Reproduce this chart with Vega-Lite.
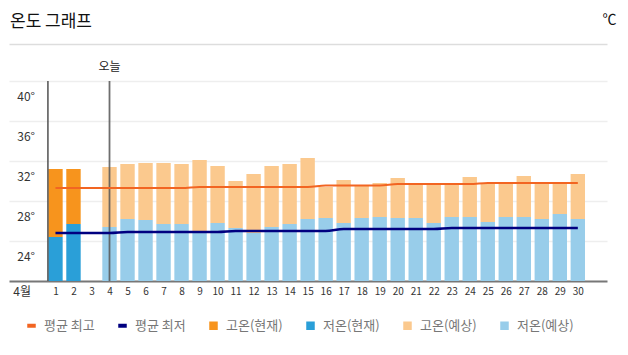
{
  "$schema": "https://vega.github.io/schema/vega-lite/v6.json",
  "width": 598,
  "height": 200,
  "autosize": {"type": "none"},
  "padding": {"left": 9, "top": 81, "right": 21, "bottom": 74},
  "background": "white",
  "title": {
    "text": "온도 그래프",
    "anchor": "start",
    "frame": "group",
    "orient": "top",
    "font": "Noto Sans CJK KR",
    "fontSize": 17,
    "fontWeight": "normal",
    "color": "#111111",
    "dx": 1,
    "dy": 29,
    "offset": 10
  },
  "config": {
    "view": {"stroke": null},
    "font": "Noto Sans CJK KR"
  },
  "datasets": {
    "bars": [
      {"day": 1, "high": 31.2, "low": 24.4, "highSeries": "고온(현재)", "lowSeries": "저온(현재)"},
      {"day": 2, "high": 31.2, "low": 25.7, "highSeries": "고온(현재)", "lowSeries": "저온(현재)"},
      {"day": 4, "high": 31.4, "low": 25.4, "highSeries": "고온(예상)", "lowSeries": "저온(예상)"},
      {"day": 5, "high": 31.7, "low": 26.2, "highSeries": "고온(예상)", "lowSeries": "저온(예상)"},
      {"day": 6, "high": 31.8, "low": 26.1, "highSeries": "고온(예상)", "lowSeries": "저온(예상)"},
      {"day": 7, "high": 31.8, "low": 25.7, "highSeries": "고온(예상)", "lowSeries": "저온(예상)"},
      {"day": 8, "high": 31.7, "low": 25.7, "highSeries": "고온(예상)", "lowSeries": "저온(예상)"},
      {"day": 9, "high": 32.1, "low": 24.9, "highSeries": "고온(예상)", "lowSeries": "저온(예상)"},
      {"day": 10, "high": 31.5, "low": 25.8, "highSeries": "고온(예상)", "lowSeries": "저온(예상)"},
      {"day": 11, "high": 30.0, "low": 25.3, "highSeries": "고온(예상)", "lowSeries": "저온(예상)"},
      {"day": 12, "high": 30.7, "low": 24.8, "highSeries": "고온(예상)", "lowSeries": "저온(예상)"},
      {"day": 13, "high": 31.5, "low": 25.4, "highSeries": "고온(예상)", "lowSeries": "저온(예상)"},
      {"day": 14, "high": 31.7, "low": 25.7, "highSeries": "고온(예상)", "lowSeries": "저온(예상)"},
      {"day": 15, "high": 32.3, "low": 26.2, "highSeries": "고온(예상)", "lowSeries": "저온(예상)"},
      {"day": 16, "high": 29.4, "low": 26.3, "highSeries": "고온(예상)", "lowSeries": "저온(예상)"},
      {"day": 17, "high": 30.1, "low": 25.8, "highSeries": "고온(예상)", "lowSeries": "저온(예상)"},
      {"day": 18, "high": 29.6, "low": 26.3, "highSeries": "고온(예상)", "lowSeries": "저온(예상)"},
      {"day": 19, "high": 29.8, "low": 26.4, "highSeries": "고온(예상)", "lowSeries": "저온(예상)"},
      {"day": 20, "high": 30.3, "low": 26.3, "highSeries": "고온(예상)", "lowSeries": "저온(예상)"},
      {"day": 21, "high": 29.7, "low": 26.3, "highSeries": "고온(예상)", "lowSeries": "저온(예상)"},
      {"day": 22, "high": 29.7, "low": 25.8, "highSeries": "고온(예상)", "lowSeries": "저온(예상)"},
      {"day": 23, "high": 29.7, "low": 26.4, "highSeries": "고온(예상)", "lowSeries": "저온(예상)"},
      {"day": 24, "high": 30.4, "low": 26.4, "highSeries": "고온(예상)", "lowSeries": "저온(예상)"},
      {"day": 25, "high": 29.7, "low": 25.9, "highSeries": "고온(예상)", "lowSeries": "저온(예상)"},
      {"day": 26, "high": 29.7, "low": 26.4, "highSeries": "고온(예상)", "lowSeries": "저온(예상)"},
      {"day": 27, "high": 30.5, "low": 26.4, "highSeries": "고온(예상)", "lowSeries": "저온(예상)"},
      {"day": 28, "high": 29.7, "low": 26.2, "highSeries": "고온(예상)", "lowSeries": "저온(예상)"},
      {"day": 29, "high": 29.9, "low": 26.7, "highSeries": "고온(예상)", "lowSeries": "저온(예상)"},
      {"day": 30, "high": 30.7, "low": 26.2, "highSeries": "고온(예상)", "lowSeries": "저온(예상)"}
    ],
    "avg": [
      {"day": 1, "avgHigh": 29.3, "avgLow": 24.8},
      {"day": 2, "avgHigh": 29.3, "avgLow": 24.8},
      {"day": 3, "avgHigh": 29.3, "avgLow": 24.8},
      {"day": 4, "avgHigh": 29.3, "avgLow": 24.8},
      {"day": 5, "avgHigh": 29.3, "avgLow": 24.9},
      {"day": 6, "avgHigh": 29.3, "avgLow": 24.9},
      {"day": 7, "avgHigh": 29.3, "avgLow": 24.9},
      {"day": 8, "avgHigh": 29.3, "avgLow": 24.9},
      {"day": 9, "avgHigh": 29.4, "avgLow": 24.9},
      {"day": 10, "avgHigh": 29.4, "avgLow": 24.9},
      {"day": 11, "avgHigh": 29.4, "avgLow": 25.0},
      {"day": 12, "avgHigh": 29.4, "avgLow": 25.0},
      {"day": 13, "avgHigh": 29.4, "avgLow": 25.0},
      {"day": 14, "avgHigh": 29.4, "avgLow": 25.0},
      {"day": 15, "avgHigh": 29.4, "avgLow": 25.0},
      {"day": 16, "avgHigh": 29.55, "avgLow": 25.0},
      {"day": 17, "avgHigh": 29.55, "avgLow": 25.2},
      {"day": 18, "avgHigh": 29.55, "avgLow": 25.2},
      {"day": 19, "avgHigh": 29.55, "avgLow": 25.2},
      {"day": 20, "avgHigh": 29.7, "avgLow": 25.2},
      {"day": 21, "avgHigh": 29.7, "avgLow": 25.2},
      {"day": 22, "avgHigh": 29.7, "avgLow": 25.2},
      {"day": 23, "avgHigh": 29.7, "avgLow": 25.3},
      {"day": 24, "avgHigh": 29.7, "avgLow": 25.3},
      {"day": 25, "avgHigh": 29.8, "avgLow": 25.3},
      {"day": 26, "avgHigh": 29.8, "avgLow": 25.3},
      {"day": 27, "avgHigh": 29.8, "avgLow": 25.3},
      {"day": 28, "avgHigh": 29.8, "avgLow": 25.3},
      {"day": 29, "avgHigh": 29.8, "avgLow": 25.3},
      {"day": 30, "avgHigh": 29.8, "avgLow": 25.3}
    ],
    "marks": [
      {"day": 0.58, "label": ""},
      {"day": 4, "label": "오늘"}
    ]
  },
  "resolve": {"axis": {"x": "independent"}},
  "layer": [
    {
      "data": {"name": "bars"},
      "mark": {"type": "bar", "width": 14.4},
      "encoding": {
        "x": {
          "field": "day",
          "type": "quantitative",
          "scale": {"domain": [-1.58, 31.62], "nice": false, "zero": false, "padding": 0},
          "axis": {
            "title": null,
            "values": [-0.88, 1, 2, 3, 4, 5, 6, 7, 8, 9, 10, 11, 12, 13, 14, 15, 16, 17, 18, 19, 20, 21, 22, 23, 24, 25, 26, 27, 28, 29, 30],
            "labelExpr": "datum.value < 0 ? '4월' : datum.value",
            "labelFontSize": {"condition": {"test": "datum.value < 0", "value": 12}, "value": 10},
            "labelColor": "#333333",
            "labelPadding": 5,
            "labelBaseline": "top",
            "ticks": false,
            "grid": false,
            "domainColor": "#777777",
            "domainWidth": 2,
            "labelFlush": false,
            "labelOverlap": false
          }
        },
        "y": {
          "field": "high",
          "type": "quantitative",
          "scale": {"domain": [20, 40], "nice": false, "zero": false},
          "axis": {
            "title": "℃",
            "titleAngle": 0,
            "titleX": 607,
            "titleY": -62,
            "titleAlign": "right",
            "titleBaseline": "middle",
            "titleFontSize": 14,
            "titleFontWeight": "normal",
            "titleColor": "#111111",
            "values": [24, 28, 32, 36, 40],
            "labelExpr": "datum.value + '°'",
            "labelAlign": "right",
            "labelBaseline": "middle",
            "labelPadding": -25.5,
            "labelOffset": 15,
            "labelFontSize": 12,
            "labelColor": "#333333",
            "ticks": false,
            "tickSize": 0,
            "domain": false,
            "grid": true,
            "gridColor": "#eeeeee",
            "gridWidth": 1.5
          }
        },
        "y2": {"field": "low"},
        "color": {
          "field": "highSeries",
          "type": "nominal",
          "scale": {
            "domain": ["평균 최고", "평균 최저", "고온(현재)", "저온(현재)", "고온(예상)", "저온(예상)"],
            "range": ["#f26522", "#000080", "#f7941d", "#2a9fd8", "#fbc98e", "#98cdea"]
          },
          "legend": {
            "title": null,
            "orient": "none",
            "legendX": 16,
            "legendY": 238,
            "direction": "horizontal",
            "columns": 6,
            "columnPadding": 21,
            "labelOffset": 6,
            "labelFontSize": 13,
            "labelColor": "#777777",
            "symbolSize": 49,
            "encode": {
              "symbols": {
                "update": {
                  "shape": {"signal": "datum.value === '평균 최고' || datum.value === '평균 최저' ? 'M-1,-0.35H1V0.35H-1Z' : 'square'"},
                  "fill": {"scale": "color", "field": "value"},
                  "stroke": {"value": "transparent"},
                  "fillOpacity": {"value": 1}
                }
              }
            }
          }
        }
      }
    },
    {
      "data": {"name": "bars"},
      "mark": {"type": "bar", "width": 14.4},
      "encoding": {
        "x": {"field": "day", "type": "quantitative", "axis": null},
        "y": {"field": "low", "type": "quantitative"},
        "y2": {"datum": 20},
        "color": {"field": "lowSeries", "type": "nominal"}
      }
    },
    {
      "data": {"name": "marks"},
      "mark": {"type": "rule", "strokeWidth": 1.8, "color": "#555555", "opacity": 0.85},
      "encoding": {
        "x": {"field": "day", "type": "quantitative", "axis": null},
        "y": {"datum": 40},
        "y2": {"datum": 20}
      }
    },
    {
      "data": {"name": "marks"},
      "mark": {"type": "text", "dy": -14, "fontSize": 12, "color": "#222222", "baseline": "middle"},
      "encoding": {
        "x": {"field": "day", "type": "quantitative", "axis": null},
        "y": {"datum": 40},
        "text": {"field": "label"}
      }
    },
    {
      "data": {"name": "avg"},
      "mark": {"type": "line", "strokeWidth": 2, "interpolate": "monotone"},
      "encoding": {
        "x": {
          "field": "day",
          "type": "quantitative",
          "axis": {
            "orient": "top",
            "offset": 37,
            "labels": false,
            "ticks": false,
            "grid": false,
            "title": null,
            "domainColor": "#dddddd",
            "domainWidth": 1.5
          }
        },
        "y": {"field": "avgHigh", "type": "quantitative"},
        "color": {"datum": "평균 최고"}
      }
    },
    {
      "data": {"name": "avg"},
      "mark": {"type": "line", "strokeWidth": 2.5, "interpolate": "monotone"},
      "encoding": {
        "x": {"field": "day", "type": "quantitative", "axis": null},
        "y": {"field": "avgLow", "type": "quantitative"},
        "color": {"datum": "평균 최저"}
      }
    }
  ]
}
